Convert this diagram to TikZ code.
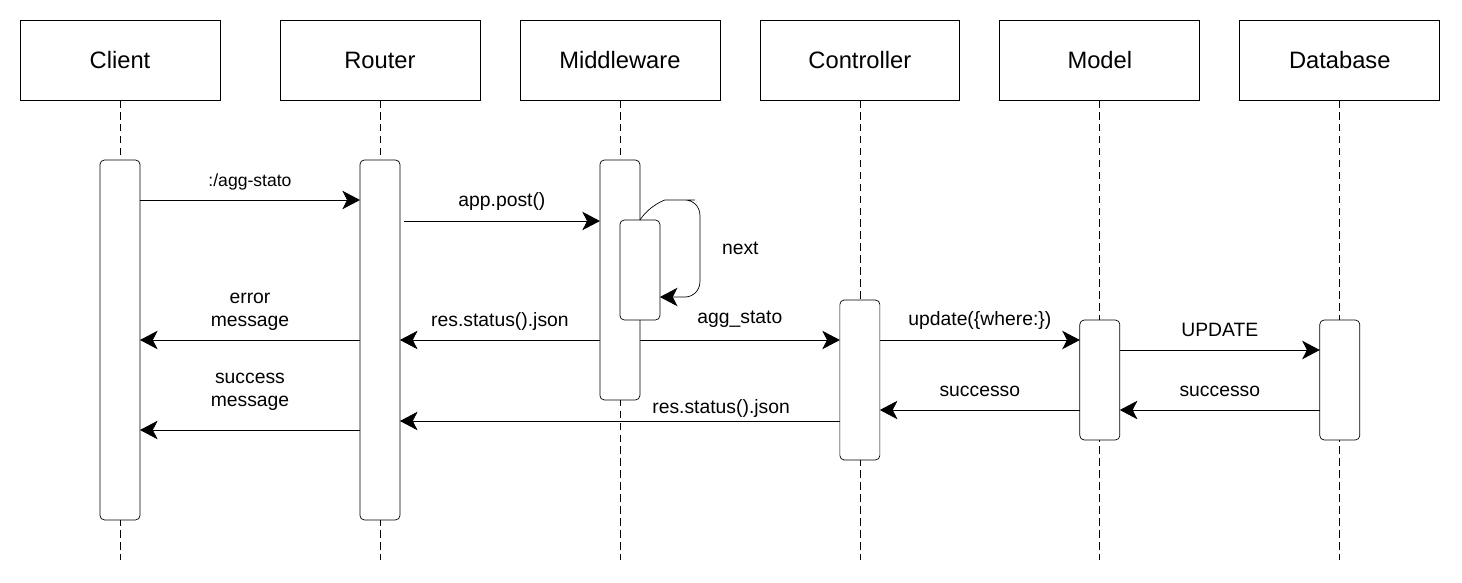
\documentclass[tikz,border=0pt]{standalone}
\usepackage{fontspec}
\setmainfont{Liberation Sans}
\usetikzlibrary{arrows.meta,positioning}
\tikzset{>={Stealth[length=10pt,width=10.5pt,inset=2.7pt]}, % heads like the drawing tool
line width=1.2pt,
head/.style={draw, minimum width=4cm, minimum height=1.6cm, outer sep=0pt, font=\fontsize{13.5}{16}\selectfont}, % participant boxes
act/.style={draw, fill=white, rounded corners=2.5pt, minimum width=0.8cm, outer sep=0pt, anchor=north}, % activation bars
life/.style={dash pattern=on 4.3pt off 2.5pt}, % lifelines
msg/.style={->},
lbl/.style={font=\fontsize{11}{13}\selectfont, inner sep=1pt, align=center},
}

\begin{document}
\begin{tikzpicture}[x=0.02cm, y=-0.02cm, node distance=0.8cm]
\useasboundingbox (0,0) rectangle (1462,582);
% participants
\node[head] (client) at (120,60) {Client};
\node[head, right=1.2cm of client] (router) {Router};
\node[head, right=of router] (middleware) {Middleware};
\node[head, right=of middleware] (controller) {Controller};
\node[head, right=of controller] (model) {Model};
\node[head, right=of model] (database) {Database};
\foreach \p in {client,router,middleware,controller,model,database}
  \draw[life] (\p.south) -- (\p.south |- 0,560);
% activations
\node[act, minimum height=7.2cm] (cliAct) at (client |- 0,160) {};
\node[act, minimum height=7.2cm] (rouAct) at (router |- 0,160) {};
\node[act, minimum height=4.8cm] (midAct) at (middleware |- 0,160) {};
\node[act, anchor=north west, minimum height=2cm] (nextAct) at (midAct.north |- 0,220) {};
\node[act, minimum height=3.2cm] (ctrlAct) at (controller |- 0,300) {};
\node[act, minimum height=2.4cm] (modAct) at (model |- 0,320) {};
\node[act, minimum height=2.4cm] (dbAct) at (database |- 0,320) {};
% self call
\draw[msg, rounded corners=0.3cm] (midAct.east |- nextAct.north) .. controls +(10,-15) and +(-15,0) .. ++(40,-20)
  -- ++(20,0) -- node[lbl, right=0.4cm] (nextLbl) {next} ++(0,97) -- (nextAct.east |- 0,297);
% messages
\draw[msg] (cliAct.east |- 0,200) -- node[lbl, above=0.15cm, font=\fontsize{10}{12}\selectfont] {:/agg-stato} (rouAct.west |- 0,200);
\draw[msg] ([xshift=0.08cm]rouAct.east |- 0,221) -- node[lbl, above=0.17cm] {app.post()} (midAct.west |- 0,221);
\draw[msg] (midAct.west |- 0,340) -- node[lbl, above=0.15cm] {res.status().json} (rouAct.east |- 0,340);
\draw[msg] (midAct.east |- 0,340) -- node[lbl, above=0.2cm] {agg\_stato} (ctrlAct.west |- 0,340);
\draw[msg] (rouAct.west |- 0,340) -- node[lbl, above=0.15cm] {error\\message} (cliAct.east |- 0,340);
\draw[msg] (ctrlAct.east |- 0,340) -- node[lbl, above=0.17cm] {update(\{where:\})} (modAct.west |- 0,340);
\draw[msg] (modAct.east |- 0,350) -- node[lbl, above=0.22cm] {UPDATE} (dbAct.west |- 0,350);
\draw[msg] (dbAct.west |- 0,410) -- node[lbl, above=0.22cm] {successo} (modAct.east |- 0,410);
\draw[msg] (modAct.west |- 0,410) -- node[lbl, above=0.22cm] {successo} (ctrlAct.east |- 0,410);
\draw[msg] (ctrlAct.west |- 0,421) -- node[lbl, pos=0.27, above=0.02cm] {res.status().json} (rouAct.east |- 0,421);
\draw[msg] (rouAct.west |- 0,430) -- node[lbl, above=0.35cm] {success\\message} (cliAct.east |- 0,430);
\end{tikzpicture}
\end{document}
